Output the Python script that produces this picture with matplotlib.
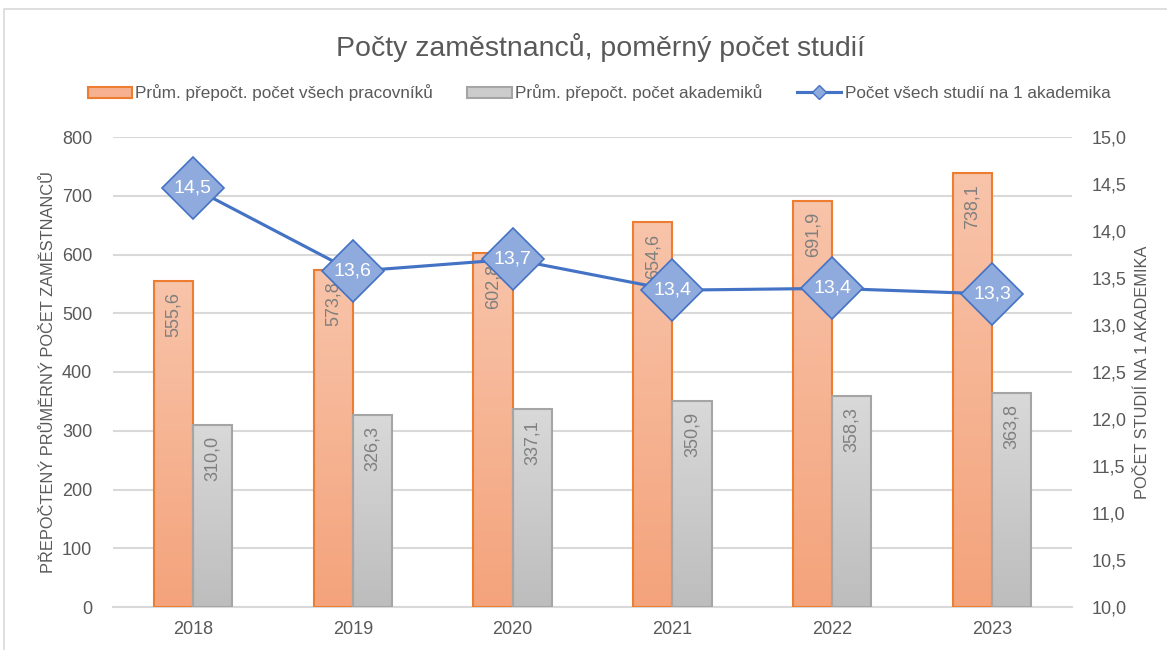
import matplotlib
matplotlib.use("Agg")
import matplotlib.pyplot as plt
import numpy as np
from matplotlib.patches import Patch, Rectangle
from matplotlib.lines import Line2D
from matplotlib.colors import LinearSegmentedColormap
from matplotlib import font_manager

names = {f.name for f in font_manager.fontManager.ttflist}
FONT = 'Liberation Sans Narrow' if 'Liberation Sans Narrow' in names else 'Liberation Sans'
plt.rcParams['font.family'] = [FONT, 'DejaVu Sans']

years = ['2018', '2019', '2020', '2021', '2022', '2023']
workers = [555.6, 573.8, 602.8, 654.6, 691.9, 738.1]
academics = [310.0, 326.3, 337.1, 350.9, 358.3, 363.8]
studies = [14.46, 13.57, 13.70, 13.37, 13.39, 13.33]
study_labels = ['14,5', '13,6', '13,7', '13,4', '13,4', '13,3']

title = 'Počty zaměstnanců, poměrný počet studií'
leg_names = ['Prům. přepočt. počet všech pracovníků', 'Prům. přepočt. počet akademiků',
             'Počet všech studií na 1 akademika']
ylabel_left = 'PŘEPOČTENÝ PRŮMĚRNÝ POČET ZAMĚSTNANCŮ'
ylabel_right = 'POČET STUDIÍ NA 1 AKADEMIKA'

TXT = '#595959'
LBL = '#7F7F7F'
W, H = 1167, 650
fig = plt.figure(figsize=(W / 100, H / 100), dpi=100)
fig.patches.append(Rectangle((4 / W, -0.01), 1.1, 1 - 9 / H + 0.01, transform=fig.transFigure,
                             fill=False, edgecolor='#D9D9D9', lw=1.2))
ax = fig.add_axes([113 / W, 1 - 607 / H, (1072 - 113) / W, (607 - 137) / H])
ax2 = ax.twinx()

x = np.arange(len(years))
bw = 0.245
cm_or = LinearSegmentedColormap.from_list('or', ['#F4A37B', '#F8C4AA'])
cm_gr = LinearSegmentedColormap.from_list('gr', ['#BDBDBD', '#D9D9D9'])
grad = np.linspace(0, 1, 256).reshape(-1, 1)

def gbar(xc, h, cmap, edge, label_txt):
    x0 = xc - bw / 2
    ax.imshow(grad, extent=[x0, x0 + bw, 0, h], origin='lower', aspect='auto', cmap=cmap, zorder=2)
    ax.add_patch(Rectangle((x0, 0), bw, h, fill=False, edgecolor=edge, lw=1.5, zorder=3))
    ax.annotate(label_txt, (xc, h), xytext=(0, -8), textcoords='offset points', rotation=90,
                ha='center', va='top', fontsize=13, color=LBL, zorder=4)

for i in range(len(years)):
    gbar(x[i] - bw / 2, workers[i], cm_or, '#ED7D31', f'{workers[i]:.1f}'.replace('.', ','))
    gbar(x[i] + bw / 2, academics[i], cm_gr, '#A5A5A5', f'{academics[i]:.1f}'.replace('.', ','))

ax.set_xlim(-0.5, len(years) - 0.5)
ax.set_ylim(0, 800)
ax.set_yticks(range(0, 801, 100))
ax.grid(axis='y', color='#D9D9D9', lw=1.5, zorder=0)
ax.set_axisbelow(True)
ax.set_xticks(x)
ax.set_xticklabels(years)
for s in ax.spines.values():
    s.set_visible(False)
ax.spines['bottom'].set_visible(True)
ax.spines['bottom'].set_color('#D9D9D9')
ax.spines['bottom'].set_linewidth(1.5)
ax.tick_params(axis='both', length=0, labelsize=13, colors=TXT)
ax.tick_params(axis='y', pad=15)
ax.tick_params(axis='x', pad=10)
ax.set_ylabel(ylabel_left, fontsize=11.8, color=TXT, labelpad=4)

ax2.plot(x, studies, color='#4472C4', lw=2.25, marker='D', markersize=32,
         markerfacecolor='#8FAADC', markeredgecolor='#4472C4', markeredgewidth=1.2, zorder=5)
for xi, v, t in zip(x, studies, study_labels):
    ax2.text(xi, v, t, ha='center', va='center', color='white', fontsize=14, zorder=6)
ax2.set_ylim(10, 15)
ax2.set_yticks(np.arange(10, 15.01, 0.5))
ax2.set_yticklabels([f'{v:.1f}'.replace('.', ',') for v in np.arange(10, 15.01, 0.5)])
for s in ax2.spines.values():
    s.set_visible(False)
ax2.tick_params(axis='y', length=0, labelsize=13, colors=TXT, pad=14)
ax2.set_ylabel(ylabel_right, fontsize=11.8, color=TXT, labelpad=6)

fig.text(600 / W, 1 - 47 / H, title, ha='center', va='center', fontsize=20.5, color=TXT)

handles = [Patch(facecolor='#F6B290', edgecolor='#ED7D31', lw=1.5),
           Patch(facecolor='#CCCCCC', edgecolor='#A5A5A5', lw=1.5),
           Line2D([], [], color='#4472C4', lw=2.25, marker='D', markersize=7,
                  markerfacecolor='#8FAADC', markeredgecolor='#4472C4')]
fig.legend(handles, leg_names, loc='center', bbox_to_anchor=(599 / W, 1 - 93 / H), ncol=3,
           frameon=False, fontsize=12.3, labelcolor=TXT, handlelength=2.6, handletextpad=0.2,
           columnspacing=2.0)

fig.savefig('out.png', dpi=100)
